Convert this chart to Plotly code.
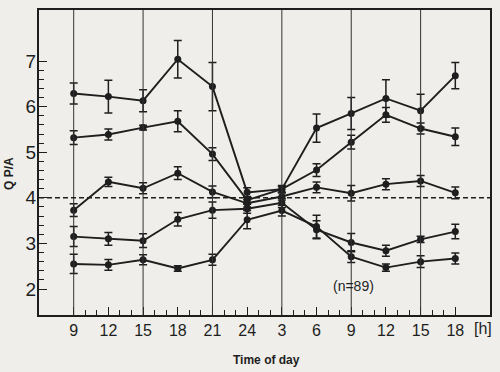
import plotly.graph_objects as go

hours = [9, 12, 15, 18, 21, 24, 27, 30, 33, 36, 39, 42]
hour_labels = ["9", "12", "15", "18", "21", "24", "3", "6", "9", "12", "15", "18"]

s1 = [6.29, 6.22, 6.13, 7.04, 6.44, 4.12, 4.19, 5.53, 5.85, 6.18, 5.91, 6.68]
e1 = [0.23, 0.36, 0.24, 0.41, 0.53, 0.10, 0.08, 0.31, 0.35, 0.41, 0.36, 0.29]
s2 = [5.32, 5.39, 5.54, 5.68, 4.96, 3.95, 4.19, 4.61, 5.22, 5.82, 5.52, 5.34]
e2 = [0.15, 0.12, 0.05, 0.23, 0.14, 0.08, 0.06, 0.14, 0.15, 0.16, 0.12, 0.19]
s3 = [3.73, 4.35, 4.21, 4.54, 4.13, 3.88, 4.03, 4.23, 4.10, 4.30, 4.37, 4.11]
e3 = [0.14, 0.10, 0.12, 0.14, 0.13, 0.08, 0.08, 0.12, 0.17, 0.12, 0.12, 0.13]
s4 = [3.15, 3.10, 3.06, 3.53, 3.73, 3.76, 3.89, 3.30, 3.02, 2.84, 3.09, 3.26]
e4 = [0.22, 0.14, 0.15, 0.15, 0.18, 0.10, 0.10, 0.20, 0.20, 0.12, 0.07, 0.16]
s5 = [2.55, 2.53, 2.64, 2.45, 2.64, 3.52, 3.72, 3.37, 2.71, 2.47, 2.60, 2.67]
e5 = [0.21, 0.12, 0.11, 0.06, 0.12, 0.20, 0.12, 0.25, 0.13, 0.08, 0.13, 0.12]

y_ticks = [2, 3, 4, 5, 6, 7]
grid_hours = [9, 15, 21, 27, 33, 39]
reference_level = 4

ink = "#1e1e1e"
fig = go.Figure()
for ys, es in [(s1, e1), (s2, e2), (s3, e3), (s4, e4), (s5, e5)]:
    fig.add_trace(go.Scatter(
        x=hours, y=ys, mode="lines+markers",
        line=dict(color=ink, width=1.9),
        marker=dict(color=ink, size=7, symbol="circle"),
        error_y=dict(type="data", array=es, visible=True, color=ink, thickness=1.5, width=4),
        showlegend=False))

for h in grid_hours:
    fig.add_shape(type="line", x0=h, x1=h, y0=0, y1=1, xref="x", yref="paper",
                  line=dict(color="#333", width=1))
fig.add_shape(type="line", x0=0, x1=1, y0=reference_level, y1=reference_level,
              xref="paper", yref="y", line=dict(color=ink, width=1.5, dash="5px,3px"))

fig.update_xaxes(range=[6, 45], tickmode="array", tickvals=hours, ticktext=hour_labels,
                 ticks="inside", ticklen=8, tickwidth=1.2, tickcolor=ink,
                 showline=True, linecolor=ink, linewidth=2, mirror=True, showgrid=False,
                 zeroline=False,
                 tickfont=dict(family="Liberation Sans", size=16, color=ink),
                 minor=dict(tickmode="array", tickvals=list(range(9, 43)), ticks="inside",
                            ticklen=5, tickwidth=1.2, tickcolor=ink, showgrid=False))
fig.update_yaxes(range=[1.43, 8.12], tickmode="array", tickvals=y_ticks,
                 ticks="inside", ticklen=8, tickwidth=1.2, tickcolor=ink,
                 showline=True, linecolor=ink, linewidth=2, mirror=True, showgrid=False,
                 zeroline=False, ticklabelstandoff=-3,
                 tickfont=dict(family="Liberation Sans", size=19, color=ink),
                 minor=dict(tickmode="array", tickvals=[round(2 + 0.2 * i, 1) for i in range(26)],
                            ticks="inside", ticklen=5, tickwidth=1.2, tickcolor=ink, showgrid=False))

fig.add_annotation(text="<b>Time of day</b>", x=0, xshift=227, y=0, yshift=-45,
                   xref="paper", yref="paper", xanchor="center", yanchor="middle",
                   showarrow=False, font=dict(family="Liberation Sans", size=12, color=ink))
fig.add_annotation(text="<b>Q P/A</b>", x=0, xshift=-30, y=0, yshift=-164 + 305,
                   xref="paper", yref="paper", xanchor="center", yanchor="middle",
                   textangle=-90, showarrow=False,
                   font=dict(family="Liberation Sans", size=12, color=ink))
fig.add_annotation(text="[h]", x=1, xshift=-7, y=0, yshift=-13,
                   xref="paper", yref="paper", xanchor="center", yanchor="middle",
                   showarrow=False, font=dict(family="Liberation Sans", size=16, color=ink))
fig.add_annotation(text="(n=89)", x=33.2, y=2.06, xref="x", yref="y",
                   xanchor="center", yanchor="middle", showarrow=False,
                   font=dict(family="Liberation Sans", size=14, color=ink))

fig.update_layout(width=500, height=372,
                  margin=dict(l=39, r=10, t=10, b=57, autoexpand=False),
                  paper_bgcolor="#efeeea", plot_bgcolor="#efeeea")
fig.write_html("out.html", config={"displayModeBar": False},
               post_script="document.body.style.margin='0';document.body.style.background='#efeeea';")
